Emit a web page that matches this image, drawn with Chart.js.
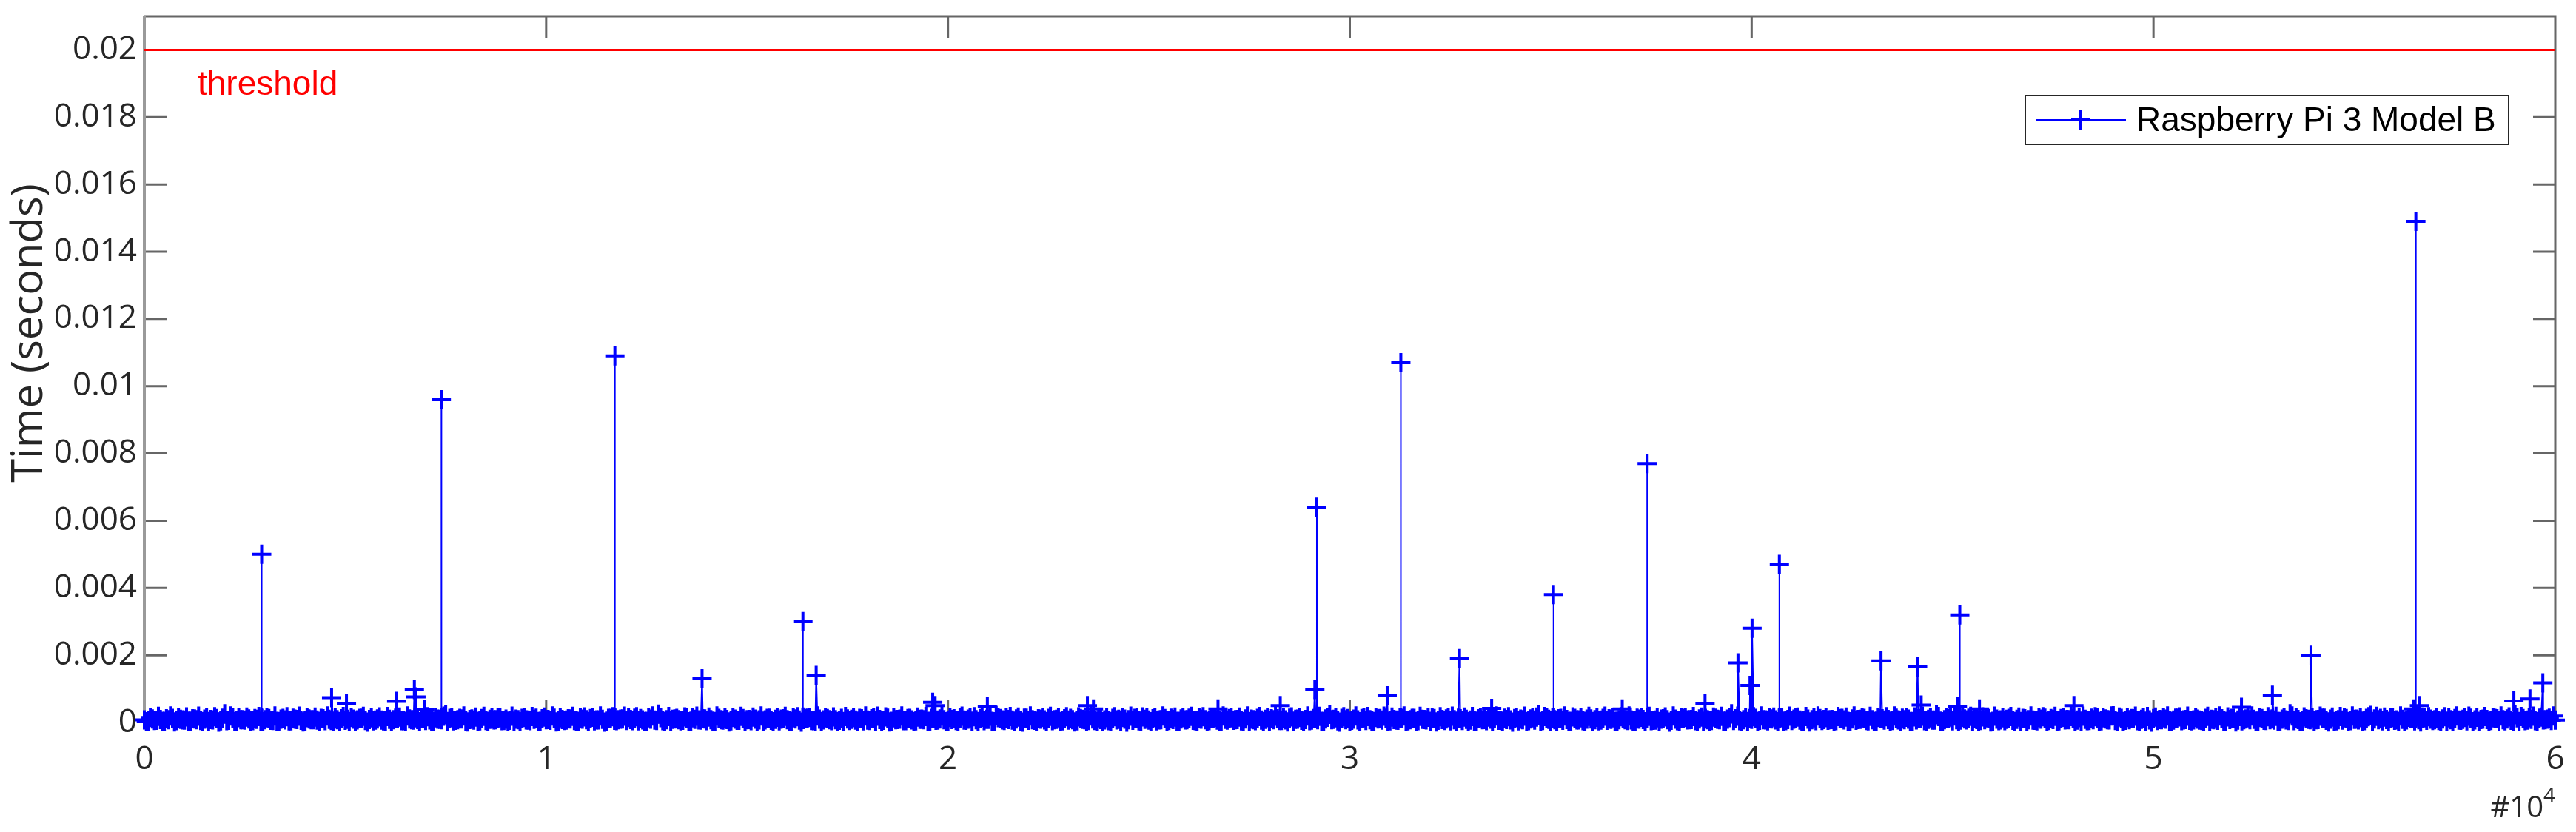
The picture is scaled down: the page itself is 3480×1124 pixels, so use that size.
<!DOCTYPE html>
<html>
<head>
<meta charset="utf-8">
<script src="https://cdn.jsdelivr.net/npm/chart.js@4.4.1/dist/chart.umd.min.js"></script>
<style>
html, body { margin: 0; padding: 0; background: #fff; }
canvas { display: block; }
</style>
</head>
<body>
<canvas id="myChart" width="3480" height="1124"></canvas>
<script>
const xTicks = [0, 10000, 20000, 30000, 40000, 50000, 60000];
const xTickLabels = ['0', '1', '2', '3', '4', '5', '6'];
const yTicks = [0, 0.002, 0.004, 0.006, 0.008, 0.01, 0.012, 0.014, 0.016, 0.018, 0.02];
const yTickLabels = ['0', '0.002', '0.004', '0.006', '0.008', '0.01', '0.012', '0.014', '0.016', '0.018', '0.02'];
const seriesLabel = 'Raspberry Pi 3 Model B';
const thresholdLabel = 'threshold';
const thresholdValue = 0.02;
const yTitle = 'Time (seconds)';

// background readings in microseconds, A at samples 0,100,200..., B at 50,150,250...
const baselineStep = 100;
const baselineUsA = [
	75,45,105,65,90,35,80,120,55,95,70,40,110,85,60,100,30,75,115,50,260,65,130,45,85,70,105,55,95,40,
	80,115,60,35,100,75,50,125,90,65,45,105,80,70,120,55,95,40,85,110,65,30,100,75,125,60,90,50,105,70,
	45,95,80,115,55,35,105,70,90,130,60,75,40,100,85,230,120,50,80,105,45,90,70,35,115,60,95,75,130,55,
	100,65,40,85,120,75,55,95,30,110,80,65,125,45,90,70,105,60,35,100,85,115,50,75,95,40,120,65,80,105,
	60,90,125,50,75,35,100,70,250,55,85,45,105,80,65,130,40,95,75,110,55,85,30,120,70,90,50,100,65,115,
	85,55,100,75,40,120,65,95,50,110,80,35,105,70,90,125,60,45,100,75,115,55,85,65,30,105,95,70,120,50,
	70,110,45,90,65,125,35,80,100,55,115,75,50,95,85,30,120,65,105,80,45,90,60,130,70,100,40,85,115,55,
	95,35,210,115,60,90,70,105,45,125,65,85,40,100,75,120,55,95,30,110,70,85,50,115,80,60,105,40,90,75,
	55,120,75,45,100,85,65,130,40,95,70,110,50,80,115,60,90,35,105,75,125,65,45,100,85,55,120,70,30,95,
	115,65,90,50,105,30,80,120,70,95,45,85,110,60,75,125,40,100,65,90,55,115,80,35,105,240,95,50,120,80,
	40,100,75,115,60,85,30,105,70,125,50,90,65,110,45,80,120,55,95,75,35,115,65,90,105,50,80,125,60,95,
	70,45,110,80,55,100,125,65,40,90,75,115,50,85,30,105,70,220,60,130,45,80,110,65,90,35,120,75,55,100,
	105,80,50,120,65,95,35,85,115,60,75,45,100,90,125,55,70,30,110,85,65,100,45,120,75,90,55,105,35,80,
	60,125,85,40,100,260,110,55,80,30,95,120,65,85,50,105,75,115,40,90,60,130,70,45,100,80,55,115,90,65,
	90,55,115,75,35,105,65,95,120,50,80,40,110,70,90,60,125,45,85,100,30,75,115,55,95,70,230,40,80,120,
	50,85,70,105,125,45,90,60,80,115,35,100,75,55,120,65,95,30,110,85,70,50,100,125,60,90,45,115,75,85,
	115,70,40,95,60,85,130,50,105,75,200,30,120,65,80,110,55,95,40,75,115,60,85,100,45,70,125,55,90,65,
	75,100,60,120,45,80,65,110,35,90,125,70,50,105,80,95,40,115,60,85,70,30,100,75,260,55,90,45,110,80,
	45,90,125,65,100,30,85,70,115,55,95,75,40,120,210,105,80,50,90,130,65,35,95,75,110,50,85,120,65,100,
	85,60,105,40,80,115,70,95,50,125,75,35,100,90,60,120,45,80,105,65,230,30,115,70,95,55,125,75,100,60,
	70
];
const baselineUsB = [
	20,150,60,180,35,110,195,15,130,75,165,40,105,185,25,140,90,170,10,125,55,190,30,145,80,160,45,115,175,20,
	135,65,190,30,120,170,50,100,185,15,145,85,160,35,110,195,60,130,25,175,95,150,40,120,180,10,140,70,165,50,
	175,25,125,160,55,190,80,140,20,115,170,45,135,95,185,30,150,65,120,195,15,105,160,50,180,35,130,85,145,60,
	40,185,100,20,150,70,175,125,35,160,90,195,15,140,60,110,180,45,130,165,25,155,75,190,10,120,170,55,100,185,
	150,55,170,115,25,135,190,60,145,30,175,95,120,50,165,20,140,185,70,105,160,40,195,85,130,15,150,65,180,35,
	90,160,35,195,75,125,20,155,100,180,45,135,170,10,115,150,55,190,30,140,85,165,25,120,175,60,145,40,110,190,
	60,130,185,45,165,15,140,90,190,55,120,25,160,100,175,35,130,70,195,20,150,110,45,185,65,135,170,30,155,95,
	185,20,145,75,130,175,40,160,10,125,195,65,110,150,30,180,85,140,50,170,120,15,165,95,40,190,60,135,25,145,
	30,170,95,150,10,185,120,50,165,135,20,155,75,190,45,125,160,35,145,80,180,55,130,170,20,110,150,45,190,70,
	140,80,160,25,190,100,55,175,30,145,110,185,60,130,15,165,95,150,40,195,70,125,180,25,155,85,140,10,170,115,
	65,190,20,135,175,45,150,115,185,35,160,70,140,195,50,120,25,180,90,155,130,15,170,60,145,185,40,110,160,30,
	175,40,140,90,160,20,195,65,125,170,10,145,100,185,55,135,160,30,175,95,150,45,120,190,25,165,75,140,35,180,
	25,155,70,185,110,140,35,170,80,195,45,125,155,20,180,65,140,100,165,10,190,55,130,150,80,175,30,160,120,45,
	160,95,180,40,145,60,185,25,150,115,170,35,190,75,130,160,20,145,55,185,100,160,40,175,15,135,190,60,145,85,
	45,175,120,160,20,190,90,135,60,180,25,150,110,170,40,195,75,125,155,30,165,110,185,45,140,70,175,20,130,160,
	190,30,150,75,180,110,45,165,135,15,185,55,140,95,175,25,160,120,40,190,65,145,170,30,115,180,50,155,90,175,
	35,145,185,55,125,170,20,140,80,190,60,160,30,150,115,185,45,130,175,10,160,90,140,195,35,125,165,75,185,50,
	150,70,30,180,95,140,190,45,165,120,15,175,85,135,195,40,150,65,170,105,180,25,145,60,190,130,20,165,95,140,
	80,185,125,15,160,50,175,135,30,190,100,145,55,170,25,180,120,160,35,145,75,195,40,155,120,180,15,135,170,60,
	130,25,170,140,45,195,65,150,185,20,155,90,175,35,140,110,190,50,165,20,135,175,55,145,185,30,160,80,125,190
];

// the slow readings [sample, seconds]
const spikes = [
	[2919, 0.00013], [2920, 0.0050], [2921, 0.00011],
	[4660, 0.00074], [5030, 0.00055], [6280, 0.00063], [6720, 0.00098], [6760, 0.00076], [6980, 0.00038],
	[7389, 0.00012], [7390, 0.0096], [7391, 0.00015],
	[11709, 0.00014], [11710, 0.0109], [11711, 0.00012],
	[13880, 0.0013],
	[16389, 0.00013], [16390, 0.0030], [16391, 0.00016],
	[16720, 0.0014], [19620, 0.0006], [19680, 0.0005], [20980, 0.00048], [23470, 0.0005], [23620, 0.0004],
	[26720, 0.0004], [28270, 0.0005], [29130, 0.00098],
	[29179, 0.00015], [29180, 0.0064], [29181, 0.00012],
	[30930, 0.00079],
	[31269, 0.00012], [31270, 0.0107], [31271, 0.00014],
	[32730, 0.0019], [33530, 0.00042],
	[35069, 0.00013], [35070, 0.0038], [35071, 0.00015],
	[36780, 0.0004],
	[37399, 0.00014], [37400, 0.0077], [37401, 0.00012],
	[38840, 0.00055], [39660, 0.00177], [39960, 0.0011], [40010, 0.0028],
	[40689, 0.00012], [40690, 0.0047], [40691, 0.00014],
	[43220, 0.00183], [44130, 0.00165], [44220, 0.00052], [45120, 0.00048],
	[45179, 0.00013], [45180, 0.0032], [45181, 0.00012],
	[45670, 0.0004], [48020, 0.0005], [52190, 0.00045], [52960, 0.00081], [53920, 0.0020], [56480, 0.0004],
	[56529, 0.00012], [56530, 0.0149], [56531, 0.00015],
	[56620, 0.0005], [58970, 0.00064], [59370, 0.0007], [59690, 0.00118]
];

const piPoints = baselineUsA.map((v, i) => ({ x: i * baselineStep, y: v / 1e6 }))
	.concat(baselineUsB.map((v, i) => ({ x: i * baselineStep + baselineStep / 2, y: v / 1e6 })))
	.concat(spikes.map(p => ({ x: p[0], y: p[1] })))
	.sort((a, b) => a.x - b.x);

const tickLen = 30;

const frame = {
	id: 'frame',
	beforeDatasetsDraw(chart) {
		const { ctx, chartArea: a, scales: { x, y } } = chart;
		ctx.save();
		ctx.lineWidth = 3;
		ctx.strokeStyle = '#666666';
		ctx.beginPath();
		ctx.moveTo(a.left, a.top); ctx.lineTo(a.right, a.top);
		ctx.lineTo(a.right, a.bottom); ctx.lineTo(a.left, a.bottom);
		x.ticks.forEach(t => {
			const px = x.getPixelForValue(t.value);
			ctx.moveTo(px, a.bottom); ctx.lineTo(px, a.bottom - tickLen);
			ctx.moveTo(px, a.top); ctx.lineTo(px, a.top + tickLen);
		});
		y.ticks.forEach(t => {
			const py = y.getPixelForValue(t.value);
			ctx.moveTo(a.left, py); ctx.lineTo(a.left + tickLen, py);
			ctx.moveTo(a.right, py); ctx.lineTo(a.right - tickLen, py);
		});
		ctx.stroke();
		// left axis drawn a little lighter, as in the original
		ctx.strokeStyle = '#9a9a9a';
		ctx.lineWidth = 4;
		ctx.beginPath();
		ctx.moveTo(a.left, a.top); ctx.lineTo(a.left, a.bottom);
		ctx.stroke();
		ctx.restore();
	},
	afterDraw(chart) {
		const { ctx, chartArea: a } = chart;
		ctx.save();
		// y title
		ctx.save();
		ctx.translate(40, 450);
		ctx.rotate(-Math.PI / 2);
		ctx.font = '58px "Open Sans"';
		ctx.fillStyle = '#262626';
		ctx.textAlign = 'center';
		ctx.textBaseline = 'middle';
		ctx.fillText(yTitle, 0, 0);
		ctx.restore();

		// threshold caption
		ctx.font = '46px "Liberation Sans"';
		ctx.fillStyle = '#ff0000';
		ctx.textBaseline = 'alphabetic';
		ctx.textAlign = 'left';
		ctx.fillText(thresholdLabel, a.left + 72, a.top + 106);

		// legend
		const lx = a.right - 716, ly = a.top + 107, lw = 653, lh = 66, cy = ly + lh / 2;
		ctx.fillStyle = '#ffffff';
		ctx.fillRect(lx, ly, lw, lh);
		ctx.strokeStyle = '#262626';
		ctx.lineWidth = 2;
		ctx.strokeRect(lx, ly, lw, lh);
		ctx.strokeStyle = '#0000ff';
		ctx.beginPath();
		ctx.moveTo(lx + 14, cy); ctx.lineTo(lx + 136, cy);
		ctx.stroke();
		ctx.lineWidth = 4;
		ctx.beginPath();
		ctx.moveTo(lx + 62, cy); ctx.lineTo(lx + 88, cy);
		ctx.moveTo(lx + 75, cy - 13); ctx.lineTo(lx + 75, cy + 13);
		ctx.stroke();
		ctx.fillStyle = '#000000';
		ctx.font = '46px "Liberation Sans"';
		ctx.textBaseline = 'middle';
		ctx.fillText(seriesLabel, lx + 150, cy + 2);

		// x exponent
		ctx.fillStyle = '#262626';
		ctx.textBaseline = 'alphabetic';
		ctx.textAlign = 'right';
		ctx.font = '40px "Open Sans"';
		ctx.fillText('#10', a.right - 16, 1104);
		ctx.textAlign = 'left';
		ctx.font = '28px "Open Sans"';
		ctx.fillText('4', a.right - 16, 1084);
		ctx.restore();
	}
};

const ctx = document.getElementById('myChart').getContext('2d');
const myChart = new Chart(ctx, {
	type: 'line',
	data: {
		datasets: [{
			label: thresholdLabel,
			data: [{ x: xTicks[0], y: thresholdValue }, { x: xTicks[xTicks.length - 1], y: thresholdValue }],
			borderColor: '#ff0000',
			borderWidth: 3,
			pointRadius: 0,
			order: 1
		}, {
			label: seriesLabel,
			data: piPoints,
			borderColor: '#0000ff',
			borderWidth: 2,
			pointStyle: 'cross',
			pointRadius: 13,
			pointBorderWidth: 4,
			pointBorderColor: '#0000ff',
			pointBackgroundColor: '#0000ff',
			tension: 0,
			clip: false,
			order: 2
		}]
	},
	options: {
		responsive: false,
		animation: false,
		events: [],
		layout: { padding: { left: 0, right: 28, top: 22, bottom: 0 } },
		plugins: {
			legend: { display: false },
			tooltip: { enabled: false }
		},
		scales: {
			x: {
				type: 'linear',
				min: 0,
				max: 60000,
				grid: { display: false, drawTicks: false },
				border: { display: false },
				afterBuildTicks: s => { s.ticks = xTicks.map(v => ({ value: v })); },
				afterFit: s => { s.height = 148; s.paddingLeft = 0; s.paddingRight = 0; },
				ticks: {
					padding: 24,
					maxRotation: 0,
					autoSkip: false,
					color: '#262626',
					font: { family: 'Open Sans', size: 44 },
					callback: (v, i) => xTickLabels[i]
				}
			},
			y: {
				type: 'linear',
				min: 0,
				max: 0.021,
				grid: { display: false, drawTicks: false },
				border: { display: false },
				afterBuildTicks: s => { s.ticks = yTicks.map(v => ({ value: v })); },
				afterFit: s => { s.width = 195; s.paddingTop = 0; s.paddingBottom = 0; },
				ticks: {
					padding: 10,
					autoSkip: false,
					color: '#262626',
					font: { family: 'Open Sans', size: 44 },
					callback: (v, i) => yTickLabels[i]
				}
			}
		}
	},
	plugins: [frame]
});
</script>
</body>
</html>
